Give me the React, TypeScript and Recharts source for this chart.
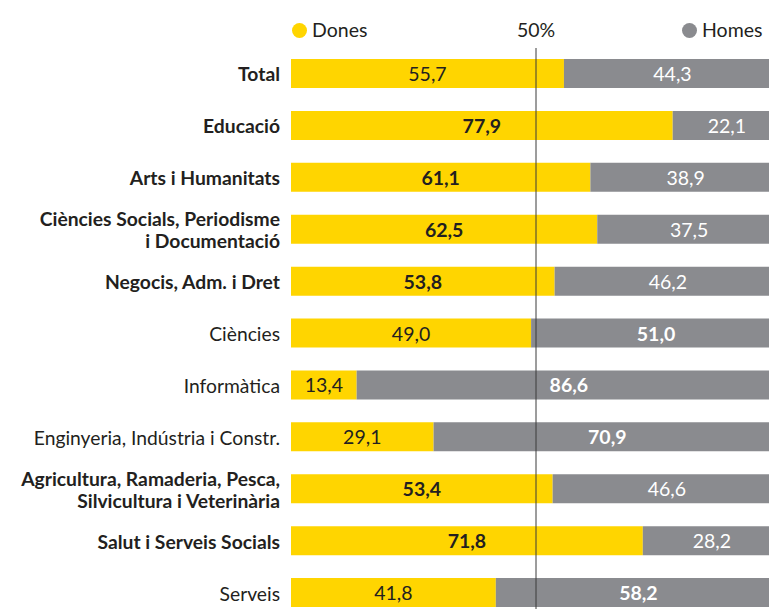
import { Bar, BarChart, LabelList, ReferenceLine, XAxis, YAxis } from "recharts";

const categories = [
  "Total",
  "Educació",
  "Arts i Humanitats",
  "Ciències Socials, Periodisme\ni Documentació",
  "Negocis, Adm. i Dret",
  "Ciències",
  "Informàtica",
  "Enginyeria, Indústria i Constr.",
  "Agricultura, Ramaderia, Pesca,\nSilvicultura i Veterinària",
  "Salut i Serveis Socials",
  "Serveis",
];
const dones = [55.7, 77.9, 61.1, 62.5, 53.8, 49.0, 13.4, 29.1, 53.4, 71.8, 41.8];
const homes = [44.3, 22.1, 38.9, 37.5, 46.2, 51.0, 86.6, 70.9, 46.6, 28.2, 58.2];

const YELLOW = "#ffd500";
const GREY = "#8a8b8f";
const INK = "#231f20";
const FONT = "Lato, sans-serif";

const data = categories.map((name, i) => ({
  name,
  dones: dones[i],
  homes: homes[i],
  strong: i === 0 || dones[i] > 50,
}));

function CategoryTick({ x, y, payload, index }: any) {
  const lines = String(payload.value).split("\n");
  const bold = data[index]?.strong;
  const start = -((lines.length - 1) * 22) / 2;
  return (
    <text
      x={x - 3}
      y={y}
      textAnchor="end"
      fontFamily={FONT}
      fontSize={19.3}
      fontWeight={bold ? 700 : 400}
      fill={INK}
    >
      {lines.map((l, k) => (
        <tspan key={k} x={x - 3} dy={k === 0 ? start : 22} dominantBaseline="central">
          {l}
        </tspan>
      ))}
    </text>
  );
}

function valueLabel(color: string) {
  return (props: any) => {
    const { x, y, width, height, value, index } = props;
    const bold = index !== 0 && value > 50;
    return (
      <text
        x={x + width / 2}
        y={y + height / 2}
        textAnchor="middle"
        dominantBaseline="central"
        fontFamily={FONT}
        fontSize={19.5}
        fontWeight={bold ? 700 : 400}
        fill={color}
      >
        {value.toFixed(1).replace(".", ",")}
      </text>
    );
  };
}

function LegendItem({ color, text, left }: { color: string; text: string; left: number }) {
  return (
    <div style={{ position: "absolute", left, top: 19, display: "flex", alignItems: "center", height: 22 }}>
      <span style={{ width: 15, height: 15, borderRadius: 8, background: color, marginRight: 5 }} />
      <span style={{ fontFamily: FONT, fontSize: 19.5, color: INK, lineHeight: "22px", whiteSpace: "nowrap" }}>{text}</span>
    </div>
  );
}

export default function App() {
  return (
    <div style={{ position: "fixed", left: 0, top: 0, width: 769, height: 609, overflow: "hidden", background: "#fff" }}>
      <LegendItem color={YELLOW} text="Dones" left={292} />
      <LegendItem color={GREY} text="Homes" left={682} />
      <BarChart
        width={790}
        height={625}
        data={data}
        layout="vertical"
        margin={{ top: 48, right: 9, bottom: 6, left: 0 }}
      >
        <XAxis type="number" domain={[0, 100]} hide />
        <YAxis
          type="category"
          dataKey="name"
          width={291}
          axisLine={false}
          tickLine={false}
          interval={0}
          tick={<CategoryTick />}
        />
        <Bar dataKey="dones" stackId="a" fill={YELLOW} barSize={29} isAnimationActive={false}>
          <LabelList dataKey="dones" content={valueLabel(INK)} />
        </Bar>
        <Bar dataKey="homes" stackId="a" fill={GREY} barSize={29} isAnimationActive={false}>
          <LabelList dataKey="homes" content={valueLabel("#ffffff")} />
        </Bar>
        <ReferenceLine
          x={50}
          stroke="#3a3a3a"
          strokeWidth={1}
          ifOverflow="visible"
          label={{ value: "50%", position: "top", offset: 11, fill: INK, fontSize: 19.5, fontFamily: FONT }}
        />
      </BarChart>
    </div>
  );
}
